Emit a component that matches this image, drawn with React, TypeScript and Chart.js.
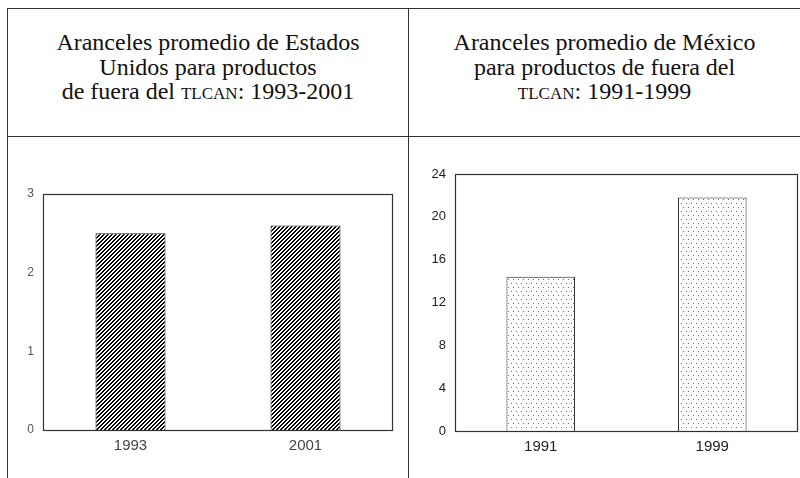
import React, { useEffect, useRef } from "react";
import { Chart, registerables } from "chart.js";

Chart.register(...registerables);

// ---- Data ----
const usCategories = ["1993", "2001"];
const usValues = [2.5, 2.6];
const usTicks = [0, 1, 2, 3];

const mxCategories = ["1991", "1999"];
const mxValues = [14.4, 21.8];
const mxTicks = [0, 4, 8, 12, 16, 20, 24];

function makeHatch(): CanvasPattern | string {
  const n = 4;
  const c = document.createElement("canvas");
  c.width = n;
  c.height = n;
  const g = c.getContext("2d");
  if (!g) return "#888";
  g.fillStyle = "#ffffff";
  g.fillRect(0, 0, n, n);
  g.fillStyle = "#000000";
  for (let x = 0; x < n; x++) {
    for (let y = 0; y < n; y++) {
      if ((x + y) % n < 2) g.fillRect(x, y, 1, 1);
    }
  }
  const p = g.createPattern(c, "repeat");
  return p || "#888";
}

function makeDots(): CanvasPattern | string {
  const c = document.createElement("canvas");
  c.width = 10;
  c.height = 8;
  const g = c.getContext("2d");
  if (!g) return "#eee";
  g.fillStyle = "#ffffff";
  g.fillRect(0, 0, 10, 8);
  g.fillStyle = "#707070";
  g.fillRect(2, 2, 1, 1);
  g.fillRect(7, 2, 1, 1);
  g.fillRect(4, 6, 1, 1);
  g.fillRect(9, 6, 1, 1);
  const p = g.createPattern(c, "repeat");
  return p || "#eee";
}

const boxPlugin = {
  id: "plotBox",
  afterDatasetsDraw(chart: any) {
    const { ctx, chartArea } = chart;
    ctx.save();
    ctx.strokeStyle = "#333";
    ctx.lineWidth = 1.2;
    ctx.strokeRect(
      Math.round(chartArea.left) + 0.5,
      Math.round(chartArea.top) + 0.5,
      Math.round(chartArea.right - chartArea.left) - 1,
      Math.round(chartArea.bottom - chartArea.top)
    );
    ctx.restore();
  },
};

type Cfg = {
  labels: string[];
  values: number[];
  ticks: number[];
  fill: () => CanvasPattern | string;
  padTop: number;
  padRight: number;
  yWidth: number;
  xHeight: number;
  yFont: number;
  yColor: string;
  xColor: string;
};

function BarChart(props: Cfg & { style: React.CSSProperties; w: number; h: number }) {
  const ref = useRef<HTMLCanvasElement | null>(null);
  useEffect(() => {
    if (!ref.current) return;
    const tickVals = props.ticks;
    const chart = new Chart(ref.current, {
      type: "bar",
      data: {
        labels: props.labels,
        datasets: [
          {
            data: props.values,
            backgroundColor: props.fill() as any,
            borderColor: "#222",
            borderWidth: 1,
            categoryPercentage: 1,
            barPercentage: 0.4,
          },
        ],
      },
      options: {
        animation: false,
        responsive: false,
        maintainAspectRatio: false,
        devicePixelRatio: 1,
        layout: { padding: { top: props.padTop, right: props.padRight, left: 0, bottom: 0 } },
        plugins: { legend: { display: false }, tooltip: { enabled: false }, title: { display: false } },
        scales: {
          x: {
            grid: { display: false, drawTicks: false },
            border: { display: false },
            ticks: {
              color: props.xColor,
              font: { family: "'Liberation Sans', Arial, sans-serif", size: 15 },
              padding: 7,
            },
            afterFit: (s: any) => {
              s.height = props.xHeight;
            },
          },
          y: {
            min: tickVals[0],
            max: tickVals[tickVals.length - 1],
            afterBuildTicks: (s: any) => {
              s.ticks = tickVals.map((v) => ({ value: v }));
            },
            grid: { display: false, drawTicks: false },
            border: { display: false },
            ticks: {
              color: props.yColor,
              font: { family: "'Liberation Sans', Arial, sans-serif", size: props.yFont },
              padding: 9,
            },
            afterFit: (s: any) => {
              s.width = props.yWidth;
            },
          },
        },
      },
      plugins: [boxPlugin],
    });
    return () => chart.destroy();
  }, []);
  return <canvas ref={ref} width={props.w} height={props.h} style={props.style} />;
}

const titleStyle: React.CSSProperties = {
  position: "absolute",
  top: 30,
  fontFamily: "'Liberation Serif', 'Times New Roman', serif",
  fontSize: 24,
  lineHeight: "24.5px",
  color: "#111",
  textAlign: "center",
};

const sc: React.CSSProperties = { fontVariant: "small-caps" };

export default function App() {
  return (
    <div
      style={{
        position: "fixed",
        left: 0,
        top: 0,
        width: 800,
        height: 478,
        background: "#fff",
        overflow: "hidden",
      }}
    >
      {/* table lines */}
      <div style={{ position: "absolute", left: 7, top: 8, width: 793, height: 1, background: "#333" }} />
      <div style={{ position: "absolute", left: 7, top: 136, width: 793, height: 1, background: "#333" }} />
      <div style={{ position: "absolute", left: 7, top: 8, width: 1, height: 470, background: "#333" }} />
      <div style={{ position: "absolute", left: 408, top: 8, width: 1, height: 470, background: "#333" }} />

      <div style={{ ...titleStyle, left: 8, width: 400 }}>
        Aranceles promedio de Estados
        <br />
        Unidos para productos
        <br />
        de fuera del <span style={sc}>tlcan</span>: 1993-2001
      </div>
      <div style={{ ...titleStyle, left: 409, width: 391 }}>
        Aranceles promedio de México
        <br />
        para productos de fuera del
        <br />
        <span style={sc}>tlcan</span>: 1991-1999
      </div>

      <BarChart
        labels={usCategories}
        values={usValues}
        ticks={usTicks}
        fill={makeHatch}
        padTop={57}
        padRight={14}
        yWidth={35}
        xHeight={48}
        yFont={12}
        yColor="#555"
        xColor="#444"
        w={399}
        h={341}
        style={{ position: "absolute", left: 8, top: 137, display: "block" }}
      />
      <BarChart
        labels={mxCategories}
        values={mxValues}
        ticks={mxTicks}
        fill={makeDots}
        padTop={37}
        padRight={2}
        yWidth={46}
        xHeight={47}
        yFont={13}
        yColor="#222"
        xColor="#222"
        w={391}
        h={341}
        style={{ position: "absolute", left: 409, top: 137, display: "block" }}
      />
    </div>
  );
}
